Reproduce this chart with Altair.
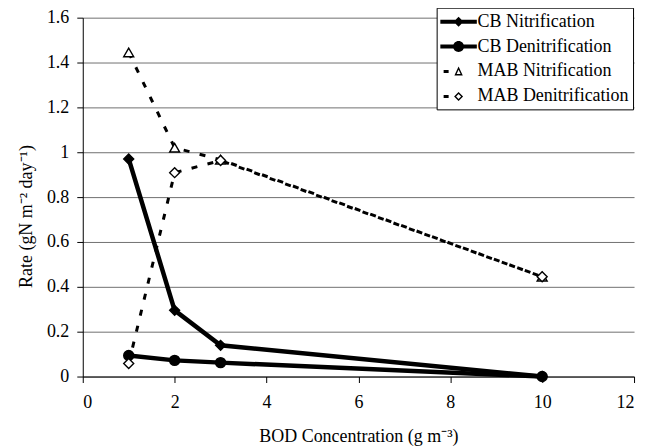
import altair as alt
import pandas as pd

# ---- data ----
bod = [1, 2, 3, 10]
series_names = ["CB Nitrification", "CB Denitrification", "MAB Nitrification", "MAB Denitrification"]
cb_nitrification = [0.970, 0.295, 0.139, 0.0]
cb_denitrification = [0.094, 0.072, 0.062, 0.0]
mab_nitrification = [1.445, 1.020, 0.967, 0.445]
mab_denitrification = [0.058, 0.909, 0.963, 0.445]
x_ticks = [0, 2, 4, 6, 8, 10, 12]
y_ticks = [0, 0.2, 0.4, 0.6, 0.8, 1.0, 1.2, 1.4, 1.6]

values = [cb_nitrification, cb_denitrification, mab_nitrification, mab_denitrification]
rows = []
for name, vals in zip(series_names, values):
    for xv, yv in zip(bod, vals):
        rows.append({"series": name, "bod": xv, "rate": yv, "group": name.split()[0]})
df = pd.DataFrame(rows)

FONT = "Liberation Serif"

# legend symbols: line segment + marker (unit coordinates)
leg_cb_nit = "M-1.83,-0.2L1.83,-0.2L1.83,0.2L-1.83,0.2Z M0,-0.5L0.5,0L0,0.5L-0.5,0Z"
leg_cb_den = ("M-1.83,-0.2L1.83,-0.2L1.83,0.2L-1.83,0.2Z "
              "M0.55,0C0.55,0.3036,0.3036,0.55,0,0.55C-0.3036,0.55,-0.55,0.3036,-0.55,0"
              "C-0.55,-0.3036,-0.3036,-0.55,0,-0.55C0.3036,-0.55,0.55,-0.3036,0.55,0Z")
leg_mab_nit = ("M-1.5,-0.15L-1.0,-0.15L-1.0,0.15L-1.5,0.15Z "
               "M0,-0.5L0.42,0.4L-0.42,0.4Z M0,-0.169L-0.2,0.26L0.2,0.26Z")
leg_mab_den = ("M-1.5,-0.15L-1.0,-0.15L-1.0,0.15L-1.5,0.15Z "
               "M0,-0.45L0.45,0L0,0.45L-0.45,0Z M0,-0.252L-0.252,0L0,0.252L0.252,0Z")

x_enc = alt.X("bod:Q", scale=alt.Scale(domain=[0, 12], nice=False),
              axis=alt.Axis(values=x_ticks, title="BOD Concentration (g m\u207b\u00b3)", grid=False,
                            format="~g", labelPadding=11, titlePadding=16))
y_enc = alt.Y("rate:Q", scale=alt.Scale(domain=[0, 1.6], nice=False),
              axis=alt.Axis(values=y_ticks, title="Rate (gN m\u207b\u00b2 day\u207b\u00b9)", grid=True,
                            format="~g", labelPadding=8, titleX=-56, titleY=199,
                            titleBaseline="middle"))

base = alt.Chart(df)

mab_lines = base.transform_filter(alt.datum.group == "MAB").mark_line(
    color="black", strokeWidth=3, strokeDash=[6, 10.5], strokeCap="butt"
).encode(x=x_enc, y=y_enc, detail="series:N", order="bod:Q")

cb_lines = base.transform_filter(alt.datum.group == "CB").mark_line(
    color="black", strokeWidth=4.5, strokeJoin="miter"
).encode(x=x_enc, y=y_enc, detail="series:N", order="bod:Q")

points = base.mark_point(size=100, strokeWidth=1.4, opacity=1).encode(
    x=x_enc, y=y_enc,
    shape=alt.Shape("series:N", scale=alt.Scale(domain=series_names,
                    range=["diamond", "circle", "triangle-up", "diamond"]), legend=None),
    fill=alt.Fill("series:N", scale=alt.Scale(domain=series_names,
                  range=["black", "black", "white", "white"]), legend=None),
    stroke=alt.value("black"),
)

legend_layer = base.mark_point(filled=True, color="black", opacity=0, size=400).encode(
    x=x_enc, y=y_enc,
    shape=alt.Shape("series:N",
                    scale=alt.Scale(domain=series_names,
                                    range=[leg_cb_nit, leg_cb_den, leg_mab_nit, leg_mab_den]),
                    legend=alt.Legend(title=None, orient="none", legendX=355, legendY=-10,
                                      padding=4, strokeColor="black", fillColor="white",
                                      labelFont=FONT, labelFontSize=18, labelColor="black",
                                      labelLimit=300, symbolSize=400, symbolOffset=8,
                                      labelOffset=9, rowPadding=6, symbolStrokeWidth=0,
                                      symbolFillColor="black", symbolOpacity=1)),
)

chart = alt.layer(mab_lines, cb_lines, points, legend_layer).resolve_scale(
    shape="independent", fill="independent"
).properties(
    width=553, height=360,
    autosize=alt.AutoSizeParams(type="none"),
    padding={"left": 75, "top": 9, "right": 12, "bottom": 71},
).configure_view(stroke=None).configure_axis(
    domainColor="black", domainWidth=1, tickColor="black", tickSize=6, tickWidth=1,
    labelFont=FONT, labelFontSize=18, labelColor="black",
    titleFont=FONT, titleFontSize=18, titleFontWeight="normal", titleColor="black",
    gridColor="#707070", gridWidth=1, gridOpacity=1,
)

chart.save("out.html", embed_options={"renderer": "svg", "actions": False})
